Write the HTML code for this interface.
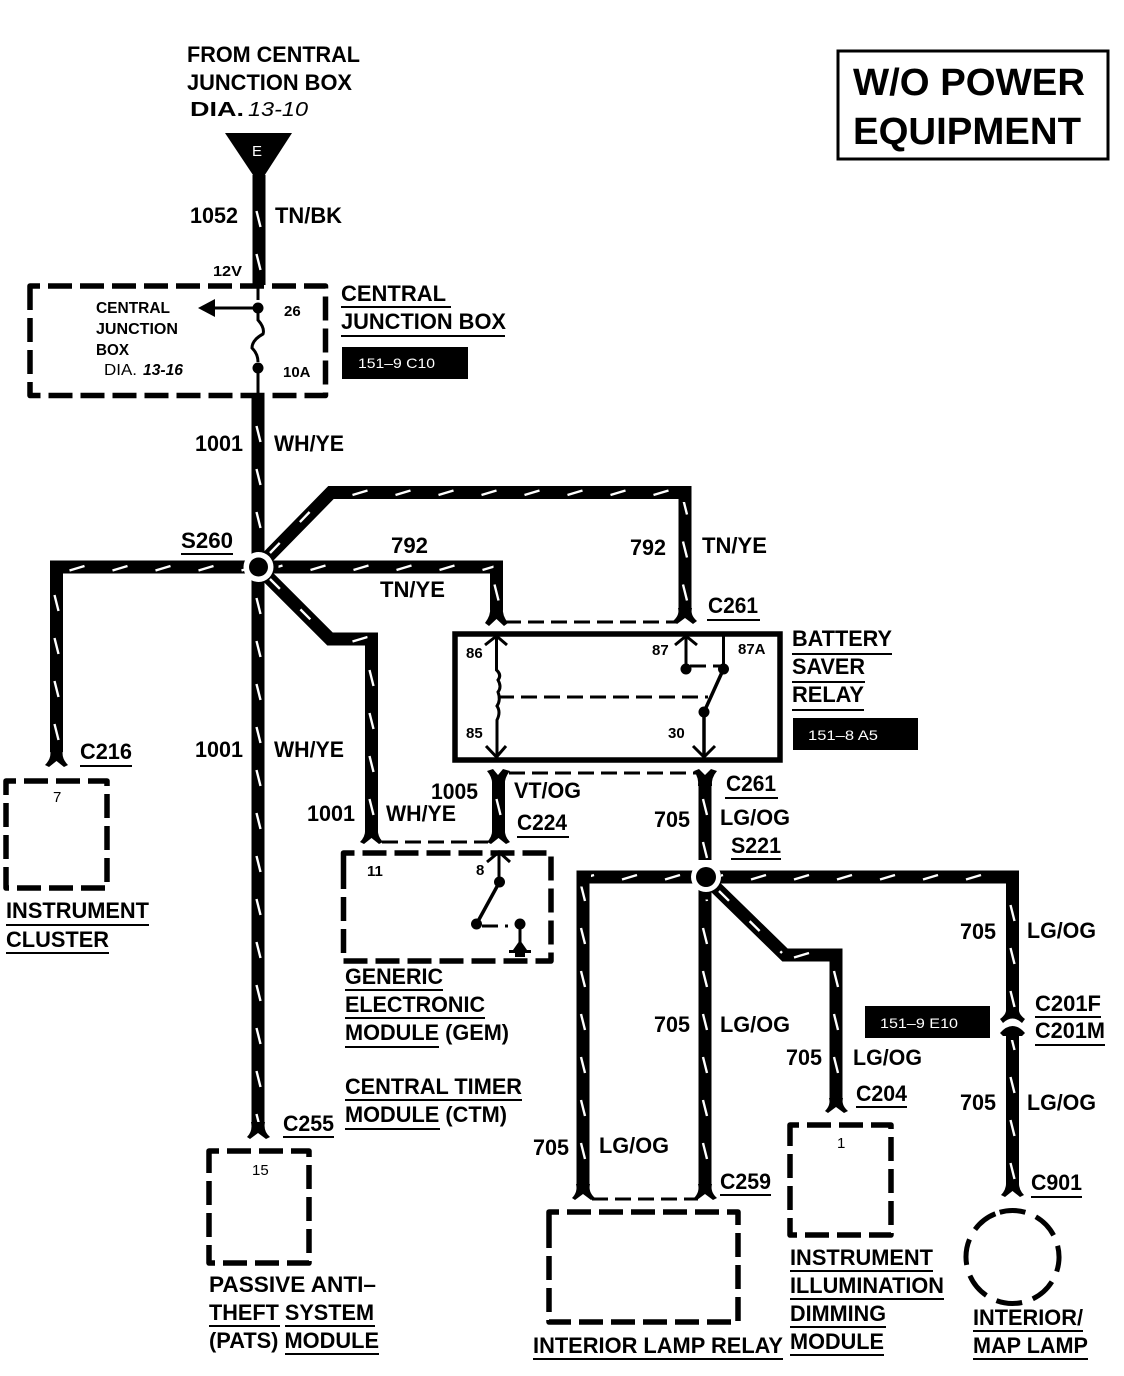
<!DOCTYPE html>
<html><head><meta charset="utf-8"><style>
html,body{margin:0;padding:0;background:#fff}
svg{display:block}
text{font-family:"Liberation Sans",sans-serif;font-weight:bold;fill:#000}
.l{font-size:22px}.s{font-size:15px}.t{font-size:16px}
.w{fill:none;stroke:#000;stroke-width:13;stroke-linejoin:miter}
.d{fill:none;stroke:#fff;stroke-width:2.4;stroke-dasharray:14 29}
.b{fill:none;stroke:#000;stroke-width:5.500;stroke-dasharray:24 8;stroke-linejoin:round}
.h{fill:none;stroke:#000;stroke-width:3;stroke-dasharray:16 7}
.n{fill:none;stroke:#000;stroke-width:3}
.u{stroke:#000;stroke-width:2}
.f{fill:#000;stroke:none}
</style></head><body>
<svg width="1124" height="1376" viewBox="0 0 1124 1376" xmlns="http://www.w3.org/2000/svg">
<defs>
<pattern id="pv" patternUnits="userSpaceOnUse" x="-5" y="0" width="10" height="43"><path d="M3 13.500L7 29.500" stroke="#fff" stroke-width="2.400" fill="none"/></pattern>
<pattern id="ph" patternUnits="userSpaceOnUse" x="0" y="-5" width="43" height="10"><path d="M14 7.500L29 3" stroke="#fff" stroke-width="2.400" fill="none"/></pattern>
</defs>
<rect width="1124" height="1376" fill="#fff"/>
<!-- wires -->
<path class="w" d="M259 175V285"/>
<path class="w" d="M258 396V1125"/>
<path class="w" d="M258 567H56.500V752"/>
<path class="w" d="M258 567H496.500V610"/>
<path class="w" d="M258 567L331 492.500H685V608"/>
<path class="w" d="M258 567L330 639H371.500V832"/>
<path class="w" d="M498.500 775V834"/>
<path class="w" d="M705 775V860M705 877V1190"/>
<path class="w" d="M705 877H583V1192"/>
<path class="w" d="M705 877L785 955H836V1102"/>
<path class="w" d="M705 877H1012.500V1012M1012.500 1030V1186"/>
<!-- wire ticks -->
<g fill="url(#pv)">
<g transform="translate(258.500,25.500)"><rect x="-5" y="164.500" width="10" height="90"/><rect x="-5" y="384.500" width="10" height="140"/><rect x="-5" y="564.500" width="10" height="535"/></g>
<g transform="translate(56.500,22.500)"><rect x="-5" y="560" width="10" height="165"/></g>
<g transform="translate(496.500,12)"><rect x="-5" y="568" width="10" height="28"/></g>
<g transform="translate(685,12)"><rect x="-5" y="490" width="10" height="106"/></g>
<g transform="translate(371.500,11.500)"><rect x="-5" y="640" width="10" height="170"/></g>
<g transform="translate(498.500,11.500)"><rect x="-5" y="780" width="10" height="42"/></g>
<g transform="translate(705,11.500)"><rect x="-5" y="780" width="10" height="70"/><rect x="-5" y="888" width="10" height="290"/></g>
<g transform="translate(583,11.500)"><rect x="-5" y="875" width="10" height="305"/></g>
<g transform="translate(836,11.500)"><rect x="-5" y="950" width="10" height="130"/></g>
<g transform="translate(1012.500,31.500)"><rect x="-5" y="855" width="10" height="125"/><rect x="-5" y="1000" width="10" height="150"/></g>
</g>
<g fill="url(#ph)">
<g transform="translate(12.500,568)"><rect x="50" y="-5" width="190" height="10"/></g>
<g transform="translate(38.500,567.500)"><rect x="240" y="-5" width="215" height="10"/></g>
<g transform="translate(37.500,492.500)"><rect x="300" y="-5" width="340" height="10"/></g>
<g transform="translate(37.500,639)"><rect x="300" y="-5" width="30" height="10"/></g>
<g transform="translate(6,877)"><rect x="585" y="-5" width="100" height="10"/><rect x="715" y="-5" width="280" height="10"/></g>
<g transform="translate(6,955)"><rect x="780" y="-5" width="50" height="10"/></g>
</g>
<g class="d">
<path d="M270 553L326 495"/><path d="M270 579L326 635"/><path d="M719 891L782 953"/>
</g>
<!-- source triangle -->
<path class="f" d="M225 133H292L259 184Z"/>
<text x="252" y="156" font-size="15" style="fill:#fff;font-weight:normal">E</text>
<!-- connector forks -->
<g class="f">
<path d="M485 623Q491 615 490 608H503Q502 615 508 623L504 626L496.500 619L489 626Z"/>
<path d="M673 621Q680 615 678 608H692Q690 615 697 621L693 624L685 618L677 624Z"/>
<path d="M487 771L493 769L498 775L503 769L510 771Q504 778 505 786H492Q493 778 487 771Z"/>
<path d="M694 771L699 769L705 775L711 769L717 771Q711 778 712 786H698Q699 778 694 771Z"/>
<path d="M45 765Q52 758 50 750H63Q61 758 68 765L64 767L56.500 761L49 767Z"/>
<path d="M360 842Q366 836 365 828H378Q377 836 383 842L379 844L371.500 838L364 844Z"/>
<path d="M487 842Q493 836 492 828H505Q504 836 510 842L506 844L498.500 838L491 844Z"/>
<path d="M247 1137Q253 1131 251 1122H265Q263 1131 270 1137L266 1139L258 1133L250 1139Z"/>
<path d="M572 1198Q578 1192 576 1184H590Q588 1192 595 1198L591 1200L583 1194L575 1200Z"/>
<path d="M694 1198Q700 1192 698 1184H712Q710 1192 717 1198L713 1200L705 1194L697 1200Z"/>
<path d="M825 1111Q831 1105 829 1098H843Q841 1105 848 1111L844 1113L836 1107L828 1113Z"/>
<path d="M1001 1195Q1007 1189 1006 1180H1019Q1018 1189 1024 1195L1020 1197L1012.500 1191L1005 1197Z"/>
<path d="M1000 1019Q1007 1014 1006 1008H1019Q1018 1014 1025 1019L1022 1023Q1012.500 1014 1003 1023Z"/>
<path d="M1000 1033Q1012.500 1019 1025 1033L1022 1036H1019V1040H1006V1036H1003Z"/>
</g>
<!-- dashed links -->
<path class="h" d="M505 622H676"/>
<path class="h" d="M509 773H696"/>
<path class="h" d="M382 842H488"/>
<path class="h" d="M592 1199H698"/>
<!-- S nodes -->
<circle cx="258.500" cy="567" r="15" fill="#fff"/><circle cx="258.500" cy="567" r="9.500" fill="#000"/>
<circle cx="706" cy="877" r="15" fill="#fff"/><circle cx="706" cy="877" r="10" fill="#000"/>
<!-- title box -->
<rect x="838" y="51" width="270" height="108" fill="none" stroke="#000" stroke-width="3"/>
<text x="853" y="95" font-size="38" textLength="232" lengthAdjust="spacingAndGlyphs">W/O POWER</text>
<text x="853" y="144" font-size="38" textLength="228" lengthAdjust="spacingAndGlyphs">EQUIPMENT</text>
<!-- central junction box -->
<path class="b" d="M30 300V286H325.500V395.500H30Z"/>
<path class="n" d="M258 285V300"/>
<path class="n" d="M258 308H213"/><path class="f" d="M198 308L215 299V317Z"/>
<circle class="f" cx="258" cy="308" r="5.500"/><circle class="f" cx="258" cy="368" r="5.500"/>
<path class="n" d="M258 312V320Q265 328 263 334Q252 340 252 348Q258 354 258 362"/>
<path class="n" d="M258 372V397"/>
<rect class="f" x="342" y="347" width="126" height="32"/>
<rect class="f" x="793" y="718" width="125" height="32"/>
<rect class="f" x="865" y="1006" width="125" height="32"/>
<text x="358" y="368" font-size="14" style="fill:#fff;font-weight:normal" textLength="77" lengthAdjust="spacingAndGlyphs">151–9 C10</text>
<text x="808" y="740" font-size="14" style="fill:#fff;font-weight:normal" textLength="70" lengthAdjust="spacingAndGlyphs">151–8 A5</text>
<text x="880" y="1028" font-size="14" style="fill:#fff;font-weight:normal" textLength="78" lengthAdjust="spacingAndGlyphs">151–9 E10</text>
<!-- relay -->
<rect x="455" y="634" width="325" height="126" fill="none" stroke="#000" stroke-width="5.500"/>
<path class="n" d="M496.500 636V670Q502 675 498 680Q502 687 498 692Q501 700 497 706Q501 712 497 720V758"/>
<path class="n" d="M485 645L496.500 636L507 645M486 746L496.500 757L506 746"/>
<path class="h" d="M498 697H708"/>
<path class="n" d="M686 636V668M723.500 634V668"/>
<path class="n" d="M675 645L686 636L697 645"/>
<circle class="f" cx="686" cy="669" r="5.500"/><circle class="f" cx="723.500" cy="669" r="5.500"/>
<path class="h" d="M690 666H720"/>
<path class="n" style="stroke-width:3.500" d="M723.500 669L704 712V757"/>
<circle class="f" cx="704" cy="712" r="5.500"/>
<path class="n" d="M693 746L704 757L715 746"/>
<!-- module boxes -->
<path class="b" d="M6 795V781H107V888H6Z"/>
<path class="b" d="M343.500 866V853H551V961H343.500Z"/>
<path class="b" d="M209 1165V1151H309V1263H209Z"/>
<path class="b" d="M790 1140V1125H891V1235H790Z"/>
<path class="b" d="M549 1226V1212H738V1322H549Z"/>
<circle cx="1012.500" cy="1257" r="46.500" fill="none" stroke="#000" stroke-width="5" stroke-dasharray="26 11.300" transform="rotate(-106 1012.500 1257)"/>
<!-- GEM switch -->
<path class="n" d="M499 852V880"/><path class="n" d="M487 862L499 852L510 862"/>
<circle class="f" cx="499.500" cy="882" r="5.500"/><circle class="f" cx="476.500" cy="924" r="5.500"/>
<path class="n" style="stroke-width:3.500" d="M499.500 882L476.500 924"/>
<path class="h" d="M482 926H508"/>
<circle class="f" cx="520" cy="924" r="5.500"/><path class="n" d="M520 924V948"/>
<path class="f" d="M520 940L527 950H531V953H525V957H515V953H509V950H513Z"/>
<!-- labels -->
<g class="l">
<text x="187" y="62" textLength="173" lengthAdjust="spacingAndGlyphs">FROM CENTRAL</text>
<text x="187" y="90" textLength="165" lengthAdjust="spacingAndGlyphs">JUNCTION BOX</text>
<text x="190" y="116" font-size="20" textLength="54" lengthAdjust="spacingAndGlyphs">DIA.</text>
<text x="190" y="223" textLength="48" lengthAdjust="spacingAndGlyphs">1052</text>
<text x="275" y="223" textLength="67" lengthAdjust="spacingAndGlyphs">TN/BK</text>
<text x="341" y="301" textLength="105" lengthAdjust="spacingAndGlyphs">CENTRAL</text>
<text x="341" y="329" textLength="165" lengthAdjust="spacingAndGlyphs">JUNCTION BOX</text>
<text x="195" y="451" textLength="48" lengthAdjust="spacingAndGlyphs">1001</text>
<text x="274" y="451" textLength="70" lengthAdjust="spacingAndGlyphs">WH/YE</text>
<text x="181" y="548" textLength="52" lengthAdjust="spacingAndGlyphs">S260</text>
<text x="391" y="553" textLength="37" lengthAdjust="spacingAndGlyphs">792</text>
<text x="380" y="597" textLength="65" lengthAdjust="spacingAndGlyphs">TN/YE</text>
<text x="630" y="555" textLength="36" lengthAdjust="spacingAndGlyphs">792</text>
<text x="702" y="553" textLength="65" lengthAdjust="spacingAndGlyphs">TN/YE</text>
<text x="708" y="613" textLength="50" lengthAdjust="spacingAndGlyphs">C261</text>
<text x="792" y="646" textLength="100" lengthAdjust="spacingAndGlyphs">BATTERY</text>
<text x="792" y="674" textLength="73" lengthAdjust="spacingAndGlyphs">SAVER</text>
<text x="792" y="702" textLength="72" lengthAdjust="spacingAndGlyphs">RELAY</text>
<text x="80" y="759" textLength="52" lengthAdjust="spacingAndGlyphs">C216</text>
<text x="195" y="757" textLength="48" lengthAdjust="spacingAndGlyphs">1001</text>
<text x="274" y="757" textLength="70" lengthAdjust="spacingAndGlyphs">WH/YE</text>
<text x="6" y="918" textLength="143" lengthAdjust="spacingAndGlyphs">INSTRUMENT</text>
<text x="6" y="947" textLength="103" lengthAdjust="spacingAndGlyphs">CLUSTER</text>
<text x="431" y="799" textLength="47" lengthAdjust="spacingAndGlyphs">1005</text>
<text x="514" y="798" textLength="67" lengthAdjust="spacingAndGlyphs">VT/OG</text>
<text x="726" y="791" textLength="50" lengthAdjust="spacingAndGlyphs">C261</text>
<text x="654" y="827" textLength="36" lengthAdjust="spacingAndGlyphs">705</text>
<text x="720" y="825" textLength="70" lengthAdjust="spacingAndGlyphs">LG/OG</text>
<text x="517" y="830" textLength="50" lengthAdjust="spacingAndGlyphs">C224</text>
<text x="731" y="853" textLength="50" lengthAdjust="spacingAndGlyphs">S221</text>
<text x="307" y="821" textLength="48" lengthAdjust="spacingAndGlyphs">1001</text>
<text x="386" y="821" textLength="70" lengthAdjust="spacingAndGlyphs">WH/YE</text>
<text x="345" y="984" textLength="98" lengthAdjust="spacingAndGlyphs">GENERIC</text>
<text x="345" y="1012" textLength="140" lengthAdjust="spacingAndGlyphs">ELECTRONIC</text>
<text x="345" y="1040" textLength="164" lengthAdjust="spacingAndGlyphs">MODULE (GEM)</text>
<text x="345" y="1094" textLength="177" lengthAdjust="spacingAndGlyphs">CENTRAL TIMER</text>
<text x="345" y="1122" textLength="162" lengthAdjust="spacingAndGlyphs">MODULE (CTM)</text>
<text x="283" y="1131" textLength="51" lengthAdjust="spacingAndGlyphs">C255</text>
<text x="209" y="1292" textLength="167" lengthAdjust="spacingAndGlyphs">PASSIVE ANTI–</text>
<text x="209" y="1320" textLength="165" lengthAdjust="spacingAndGlyphs">THEFT SYSTEM</text>
<text x="209" y="1348" textLength="170" lengthAdjust="spacingAndGlyphs">(PATS) MODULE</text>
<text x="960" y="939" textLength="36" lengthAdjust="spacingAndGlyphs">705</text>
<text x="1027" y="938" textLength="69" lengthAdjust="spacingAndGlyphs">LG/OG</text>
<text x="654" y="1032" textLength="36" lengthAdjust="spacingAndGlyphs">705</text>
<text x="720" y="1032" textLength="70" lengthAdjust="spacingAndGlyphs">LG/OG</text>
<text x="786" y="1065" textLength="36" lengthAdjust="spacingAndGlyphs">705</text>
<text x="853" y="1065" textLength="69" lengthAdjust="spacingAndGlyphs">LG/OG</text>
<text x="1035" y="1011" textLength="66" lengthAdjust="spacingAndGlyphs">C201F</text>
<text x="1035" y="1038" textLength="70" lengthAdjust="spacingAndGlyphs">C201M</text>
<text x="960" y="1110" textLength="36" lengthAdjust="spacingAndGlyphs">705</text>
<text x="1027" y="1110" textLength="69" lengthAdjust="spacingAndGlyphs">LG/OG</text>
<text x="856" y="1101" textLength="51" lengthAdjust="spacingAndGlyphs">C204</text>
<text x="1031" y="1190" textLength="51" lengthAdjust="spacingAndGlyphs">C901</text>
<text x="720" y="1189" textLength="51" lengthAdjust="spacingAndGlyphs">C259</text>
<text x="533" y="1155" textLength="36" lengthAdjust="spacingAndGlyphs">705</text>
<text x="599" y="1153" textLength="70" lengthAdjust="spacingAndGlyphs">LG/OG</text>
<text x="790" y="1265" textLength="143" lengthAdjust="spacingAndGlyphs">INSTRUMENT</text>
<text x="790" y="1293" textLength="154" lengthAdjust="spacingAndGlyphs">ILLUMINATION</text>
<text x="790" y="1321" textLength="96" lengthAdjust="spacingAndGlyphs">DIMMING</text>
<text x="790" y="1349" textLength="94" lengthAdjust="spacingAndGlyphs">MODULE</text>
<text x="533" y="1353" textLength="250" lengthAdjust="spacingAndGlyphs">INTERIOR LAMP RELAY</text>
<text x="973" y="1325" textLength="110" lengthAdjust="spacingAndGlyphs">INTERIOR/</text>
<text x="973" y="1353" textLength="115" lengthAdjust="spacingAndGlyphs">MAP LAMP</text>
</g>
<text x="248" y="116" font-size="20" font-style="italic" style="font-weight:normal" textLength="60" lengthAdjust="spacingAndGlyphs">13-10</text>
<g class="s">
<text x="213" y="276" font-size="15" textLength="29" lengthAdjust="spacingAndGlyphs">12V</text>
<text x="284" y="316">26</text><text x="283" y="377">10A</text>
<text x="466" y="658">86</text><text x="652" y="655">87</text><text x="738" y="654">87A</text>
<text x="466" y="738">85</text><text x="668" y="738">30</text>
<text x="367" y="876">11</text><text x="476" y="875">8</text>
<text x="53" y="802" style="font-weight:normal">7</text>
<text x="252" y="1175" style="font-weight:normal">15</text>
<text x="837" y="1148" style="font-weight:normal">1</text>
</g>
<g class="t">
<text x="96" y="313" textLength="74" lengthAdjust="spacingAndGlyphs">CENTRAL</text>
<text x="96" y="334" textLength="82" lengthAdjust="spacingAndGlyphs">JUNCTION</text>
<text x="96" y="355" textLength="33" lengthAdjust="spacingAndGlyphs">BOX</text>
<text x="104" y="375" textLength="33" lengthAdjust="spacingAndGlyphs" style="font-weight:normal">DIA.</text>
<text x="143" y="375" textLength="40" font-style="italic" lengthAdjust="spacingAndGlyphs">13-16</text>
</g>
<!-- underlines -->
<g class="u">
<path d="M341 307H451M341 336H505M181 554H233M707 620H760M792 654H892M792 682H865M792 710H864M80 766H132M6 925H149M6 953H109M725 798H778M517 837H569M731 859H781"/>
<path d="M345 990H443M345 1018H485M345 1047H439M345 1100H522M345 1129H440M283 1137H334M285 1326H375M285 1354H379M209 1326H280"/>
<path d="M1035 1017H1101M1035 1045H1105M856 1107H907M1031 1197H1082M720 1195H771"/>
<path d="M790 1271H933M790 1299H944M790 1327H886M790 1355H884M533 1359H783M973 1331H1083M973 1359H1088"/>
</g>
</svg>
</body></html>
